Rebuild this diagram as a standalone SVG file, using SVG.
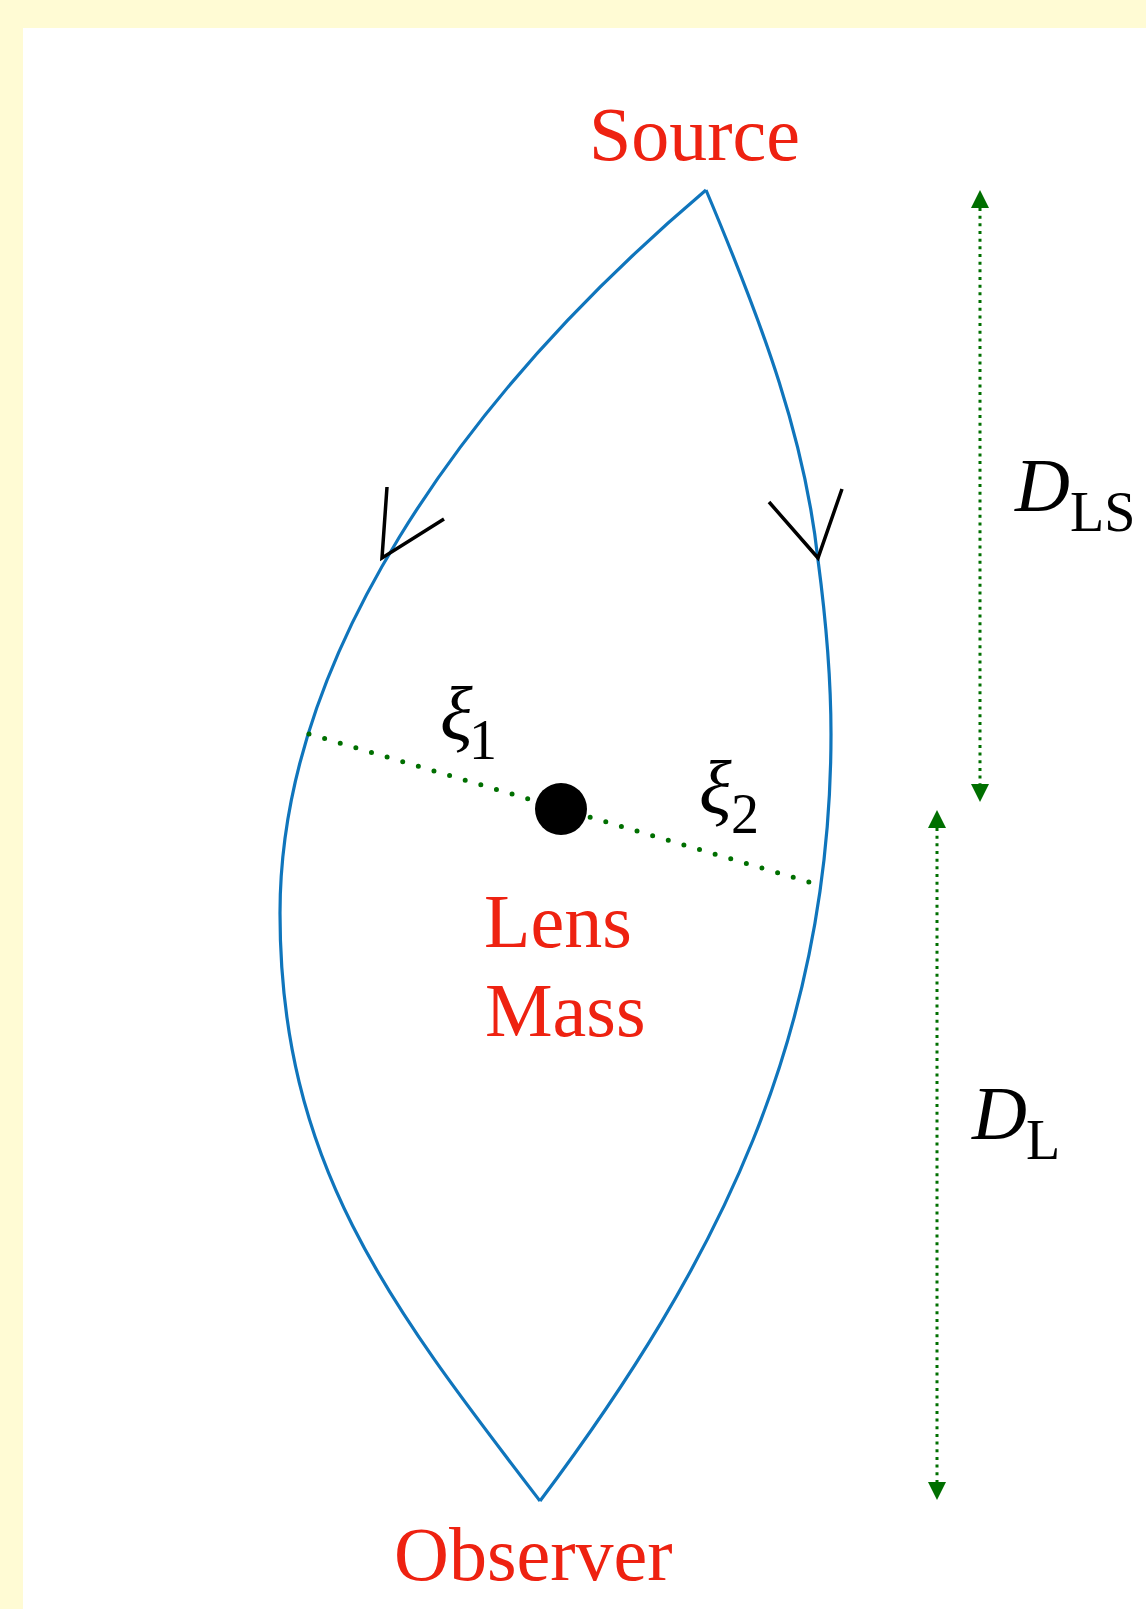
<svg xmlns="http://www.w3.org/2000/svg" width="1146" height="1609" viewBox="0 0 1146 1609">
  <style>
    .lbl { font-family: "Liberation Serif", "Times New Roman", serif; fill: #EE2211; font-size: 76px; }
    .math { font-family: "Liberation Serif", "Times New Roman", serif; fill: #000; }
    .it { font-style: italic; font-size: 76px; }
    .sub { font-size: 56px; }
    .ray { fill: none; stroke: #0F75BC; stroke-width: 3.2; }
    .head { fill: none; stroke: #000; stroke-width: 3.5; stroke-linecap: butt; }
    .dist { stroke: #006F00; stroke-width: 3; stroke-dasharray: 3 4.67; fill: none; }
    .dots { stroke: #006F00; stroke-width: 5; stroke-linecap: round; stroke-dasharray: 0 16.29; fill: none; }
  </style>
  <defs>
    <marker id="tri" viewBox="0 0 18 18" refX="0" refY="9" markerWidth="18" markerHeight="18" markerUnits="userSpaceOnUse" orient="auto-start-reverse">
      <path d="M0,0 L18,9 L0,18 Z" fill="#006F00"/>
    </marker>
  </defs>
  <rect x="0" y="0" width="1146" height="1609" fill="#FFFBD4"/>
  <rect x="23" y="28" width="1123" height="1581" fill="#FFFFFF"/>

  <g id="connectors">
    <path id="ray-left" class="ray" d="M706,190 C456,402 280,663 280,913 C280,1163 388,1303 540,1501"/>
    <path id="ray-right" class="ray" d="M706,190 C765,330 805,440 818,560 C826,620 831,680 831,734 C831,1034 720,1261 540,1501"/>
    <polyline id="arrow-left" class="head" points="387,487 382,558 444,519"/>
    <polyline id="arrow-right" class="head" points="769,502 818,558 842,489"/>
    <line id="impact" class="dots" x1="309" y1="734" x2="809" y2="882"/>
    <line id="dls-arrow" class="dist" x1="980" y1="208" x2="980" y2="784" marker-start="url(#tri)" marker-end="url(#tri)"/>
    <line id="dl-arrow" class="dist" x1="937" y1="828" x2="937" y2="1482" marker-start="url(#tri)" marker-end="url(#tri)"/>
  </g>

  <g id="source">
    <text class="lbl" x="589" y="160">Source</text>
  </g>
  <g id="lens">
    <circle cx="561" cy="809" r="26" fill="#000"/>
    <text class="lbl" x="484" y="947">Lens</text>
    <text class="lbl" x="485" y="1036">Mass</text>
  </g>
  <g id="observer">
    <text class="lbl" x="394" y="1580">Observer</text>
  </g>
  <g id="xi1">
    <text class="math"><tspan class="it" x="440" y="740">ξ</tspan><tspan class="sub" x="469" y="759">1</tspan></text>
  </g>
  <g id="xi2">
    <text class="math"><tspan class="it" x="699" y="814">ξ</tspan><tspan class="sub" x="731" y="833">2</tspan></text>
  </g>
  <g id="dls-label">
    <text class="math"><tspan class="it" x="1015" y="511">D</tspan><tspan class="sub" x="1070" y="531">LS</tspan></text>
  </g>
  <g id="dl-label">
    <text class="math"><tspan class="it" x="972" y="1139">D</tspan><tspan class="sub" x="1026" y="1159">L</tspan></text>
  </g>
</svg>
